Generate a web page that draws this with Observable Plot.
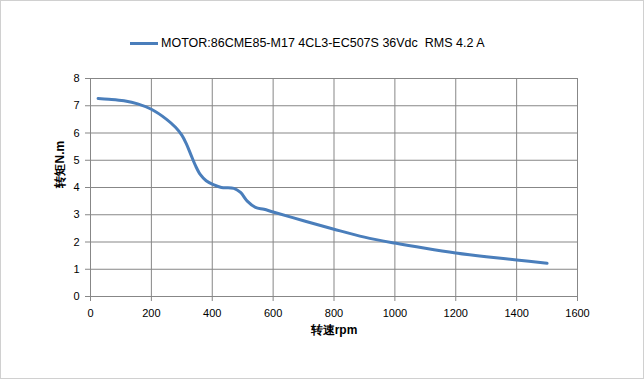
<!DOCTYPE html>
<html><head><meta charset="utf-8">
<script src="https://cdn.jsdelivr.net/npm/d3@7"></script>
<script src="https://cdn.jsdelivr.net/npm/@observablehq/plot@0.6"></script>
<style>
html,body{margin:0;padding:0;background:#fff;}
#wrap{position:relative;width:644px;height:379px;overflow:hidden;}
#frame{position:absolute;left:0;top:0;width:642px;height:377px;border:1px solid #d0d0d0;pointer-events:none;}
#legend{position:absolute;left:130px;top:36px;font-family:"Liberation Sans",Arial,sans-serif;font-size:12.5px;color:#000;white-space:pre;display:flex;align-items:center;}
#legend .sw{display:inline-block;width:28px;height:3px;background:#4a7ebb;margin-right:3px;}
</style></head>
<body><div id="wrap"><div id="legend"><span class="sw"></span><span id="ltext"></span></div><div id="frame"></div></div>
<script>
const seriesName = "MOTOR:86CME85-M17 4CL3-EC507S 36Vdc  RMS 4.2 A";
const rpm =    [25, 60, 110, 155, 200, 250, 280, 300, 315, 330, 345, 361, 380, 405, 430, 471, 493, 515, 542, 570, 600, 700, 800, 900, 1000, 1100, 1200, 1300, 1400, 1500];
const torque = [7.27, 7.24, 7.18, 7.07, 6.87, 6.5, 6.2, 5.92, 5.6, 5.2, 4.8, 4.47, 4.25, 4.1, 4.0, 3.97, 3.82, 3.5, 3.27, 3.2, 3.1, 2.78, 2.47, 2.18, 1.96, 1.77, 1.6, 1.46, 1.34, 1.22];
const xTicks = [0, 200, 400, 600, 800, 1000, 1200, 1400, 1600];
const yTicks = [0, 1, 2, 3, 4, 5, 6, 7, 8];
const xLabel = "转速rpm";
const yLabel = "转矩N.m";

document.getElementById("ltext").textContent = seriesName;
const data = rpm.map((r, i) => ({rpm: r, t: torque[i]}));
const grid = "#878787";
const chart = Plot.plot({
  width: 644, height: 379,
  marginLeft: 90, marginRight: 67, marginTop: 78, marginBottom: 83,
  style: {fontFamily: "'Liberation Sans', Arial, sans-serif", fontSize: "11px", color: "#000", background: "transparent"},
  x: {domain: [0, 1600], ticks: xTicks},
  y: {domain: [0, 8], ticks: yTicks},
  marks: [
    Plot.gridX(xTicks, {stroke: grid, strokeOpacity: 1}),
    Plot.gridY(yTicks, {stroke: grid, strokeOpacity: 1}),
    Plot.ruleX([0], {stroke: grid}),
    Plot.ruleY([0], {stroke: grid}),
    Plot.axisX({ticks: xTicks, tickFormat: d => String(d), tickSize: 5, tickPadding: 8, stroke: grid, label: null, fill: "#000"}),
    Plot.axisY({ticks: yTicks, tickFormat: d => String(d), tickSize: 5, tickPadding: 6, stroke: grid, label: null, fill: "#000"}),
    Plot.text([xLabel], {frameAnchor: "bottom", dy: 37, text: d => d, fontWeight: "bold", fontSize: 12, fill: "#000"}),
    Plot.text([yLabel], {frameAnchor: "left", dx: -30, rotate: -90, text: d => d, fontWeight: "bold", fontSize: 12, fill: "#000"}),
    Plot.line(data, {x: "rpm", y: "t", stroke: "#4a7ebb", strokeWidth: 3, curve: "catmull-rom"})
  ]
});
document.getElementById("wrap").prepend(chart);
</script></body></html>
